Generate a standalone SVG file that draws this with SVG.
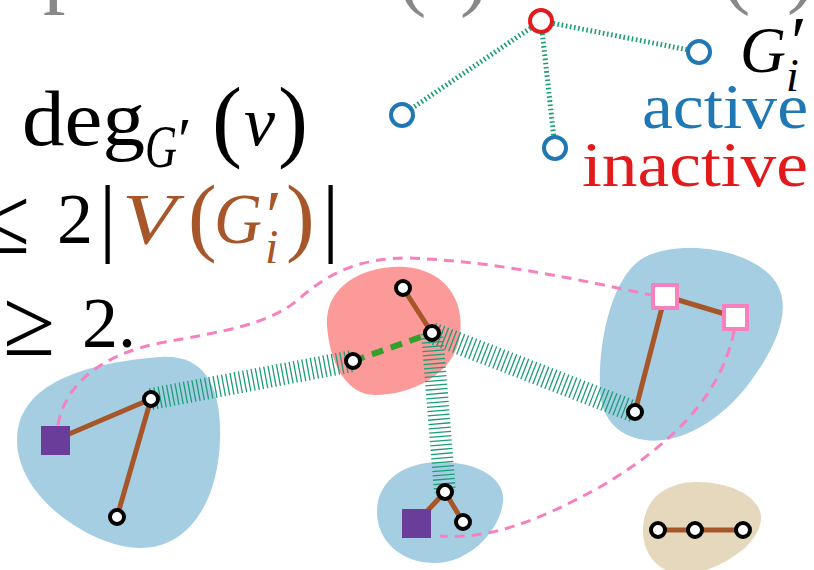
<svg xmlns="http://www.w3.org/2000/svg" width="814" height="570" viewBox="0 0 814 570">
<style>
.t{font-family:"Liberation Serif","Times New Roman",serif;}
.it{font-style:italic;}
.gr{fill:#888888;}
.brn{fill:#a65628;}
.dot{stroke:#1b9e77;stroke-width:5;stroke-dasharray:1.6 2.6;fill:none;}
.hatch{stroke:#1b9e77;stroke-width:22;stroke-dasharray:1.3 3;fill:none;}
.tree{stroke:#a65628;stroke-width:5;stroke-linecap:round;fill:none;}
.gdash{stroke:#33a02c;stroke-width:6;stroke-dasharray:12 8;fill:none;}
.pink{stroke:#f781bf;stroke-width:3;stroke-dasharray:10 7;fill:none;}
.wn{fill:#ffffff;stroke:#000000;stroke-width:4;}
.bn{fill:#ffffff;stroke:#1f78b4;stroke-width:4;}
.rn{fill:#ffffff;stroke:#e31a1c;stroke-width:4;}
.pq{fill:#6a3d9a;}
.ps{fill:#ffffff;stroke:#f781bf;stroke-width:4;}
</style>

<!-- partial text cut at top -->
<g id="toptext" class="t gr">
<text x="43" y="-4" font-size="90">p</text>
<text x="398" y="0" font-size="85">(</text>
<text x="460" y="0" font-size="85">)</text>
<text x="722" y="-2" font-size="85">(</text>
<text x="787" y="-3" font-size="85">)</text>
</g>

<!-- formula text -->
<g id="formula" class="t">
<text x="22" y="145" font-size="78" textLength="123" lengthAdjust="spacingAndGlyphs">deg</text>
<text x="145" y="167" font-size="62" class="it" textLength="32" lengthAdjust="spacingAndGlyphs">G</text>
<text x="178" y="160" font-size="62">′</text>
<text x="212" y="150" font-size="90">(</text>
<text x="244" y="145" font-size="70" class="it">v</text>
<text x="278" y="150" font-size="90">)</text>

<text x="-22" y="253" font-size="95">≤</text>
<text x="57" y="243" font-size="72">2</text>
<text x="99" y="245" font-size="86">|</text>
<text x="122" y="243" font-size="72" class="it brn" textLength="54" lengthAdjust="spacingAndGlyphs">V</text>
<text x="188" y="245" font-size="86" class="brn">(</text>
<text x="214" y="243" font-size="72" class="it brn" textLength="48" lengthAdjust="spacingAndGlyphs">G</text>
<text x="266" y="240" font-size="72" class="brn">′</text>
<text x="265" y="263" font-size="48" class="it brn">i</text>
<text x="286" y="245" font-size="86" class="brn">)</text>
<text x="322" y="245" font-size="86">|</text>

<text x="3" y="355" font-size="95">≥</text>
<text x="82" y="347" font-size="72">2.</text>
</g>

<!-- legend text -->
<g id="legend" class="t">
<text x="740" y="72" font-size="66" class="it" textLength="46" lengthAdjust="spacingAndGlyphs">G</text>
<text x="791" y="66" font-size="72">′</text>
<text x="786" y="91" font-size="46" class="it">i</text>
<text x="642" y="128" font-size="64" fill="#1f78b4" textLength="166" lengthAdjust="spacingAndGlyphs">active</text>
<text x="582" y="186" font-size="64" fill="#e31a1c" textLength="226" lengthAdjust="spacingAndGlyphs">inactive</text>
</g>

<!-- blobs -->
<g id="blobs">
<path id="blob-left" fill="#a6cee3" d="M17,440 C17,395 60,365 160,357 C200,354 222,380 220,440 C218,500 190,548 140,548 C95,548 17,500 17,440 Z"/>
<path id="blob-red" fill="#fb9a99" d="M327,325 C325,285 365,265 405,267 C445,270 465,300 460,335 C455,375 410,395 375,395 C345,395 329,360 327,325 Z"/>
<path id="blob-right" fill="#a6cee3" d="M600,390 C598,340 612,280 640,260 C670,240 740,245 770,275 C795,300 780,340 755,375 C725,420 680,445 645,440 C615,436 601,415 600,390 Z"/>
<path id="blob-mid" fill="#a6cee3" d="M377,512 C377,480 405,462 440,462 C480,462 506,480 503,502 C500,530 470,563 435,563 C400,563 377,540 377,512 Z"/>
<path id="blob-tan" fill="#e5d8bd" d="M643,530 C643,500 665,482 697,482 C735,482 763,500 761,520 C758,545 725,565 700,572 C665,580 643,560 643,530 Z"/>
</g>

<!-- connectors -->
<g id="connectors">
<line class="dot" x1="541" y1="21" x2="402" y2="115"/>
<line class="dot" x1="541" y1="21" x2="555" y2="148"/>
<line class="dot" x1="541" y1="21" x2="699" y2="52"/>

<line class="hatch" x1="151" y1="399" x2="353" y2="361"/>
<line class="hatch" x1="432" y1="333" x2="635" y2="412"/>
<line class="hatch" x1="432" y1="333" x2="445" y2="492"/>

<line class="tree" x1="55" y1="440" x2="151" y2="399"/>
<line class="tree" x1="151" y1="399" x2="117" y2="517"/>
<line class="tree" x1="403" y1="288" x2="432" y2="333"/>
<line class="gdash" x1="353" y1="361" x2="432" y2="333"/>
<line class="tree" x1="665" y1="296" x2="735" y2="317"/>
<line class="tree" x1="665" y1="296" x2="635" y2="412"/>
<line class="tree" x1="416" y1="523" x2="445" y2="492"/>
<line class="tree" x1="445" y1="492" x2="463" y2="522"/>
<line class="tree" x1="658" y1="530" x2="743" y2="530"/>

<path class="pink" d="M58,425 C65,385 100,355 160,343 C220,332 270,325 300,298 C330,272 360,258 410,258 C500,262 580,280 651,295"/>
<path class="pink" d="M734,331 C722,390 680,440 600,487 C540,520 490,540 440,536"/>
</g>

<!-- nodes -->
<g id="n-top-red"><circle class="rn" cx="541" cy="21" r="11"/></g>
<g id="n-top-b1"><circle class="bn" cx="402" cy="115" r="11"/></g>
<g id="n-top-b2"><circle class="bn" cx="555" cy="148" r="11"/></g>
<g id="n-top-b3"><circle class="bn" cx="699" cy="52" r="11"/></g>

<g id="n-l-sq"><rect class="pq" x="41" y="426" width="29" height="29"/></g>
<g id="n-l-a"><circle class="wn" cx="151" cy="399" r="7"/></g>
<g id="n-l-b"><circle class="wn" cx="117" cy="517" r="7"/></g>

<g id="n-r-a"><circle class="wn" cx="403" cy="288" r="7"/></g>
<g id="n-r-b"><circle class="wn" cx="432" cy="333" r="7"/></g>
<g id="n-r-c"><circle class="wn" cx="353" cy="361" r="7"/></g>

<g id="n-rb-sq1"><rect class="ps" x="653" y="285" width="24" height="23"/></g>
<g id="n-rb-sq2"><rect class="ps" x="724" y="306" width="23" height="23"/></g>
<g id="n-rb-a"><circle class="wn" cx="635" cy="412" r="7"/></g>

<g id="n-m-sq"><rect class="pq" x="402" y="509" width="29" height="29"/></g>
<g id="n-m-a"><circle class="wn" cx="445" cy="492" r="7"/></g>
<g id="n-m-b"><circle class="wn" cx="463" cy="522" r="7"/></g>

<g id="n-t-a"><circle class="wn" cx="658" cy="530" r="7"/></g>
<g id="n-t-b"><circle class="wn" cx="695" cy="530" r="7"/></g>
<g id="n-t-c"><circle class="wn" cx="743" cy="530" r="7"/></g>
</svg>
